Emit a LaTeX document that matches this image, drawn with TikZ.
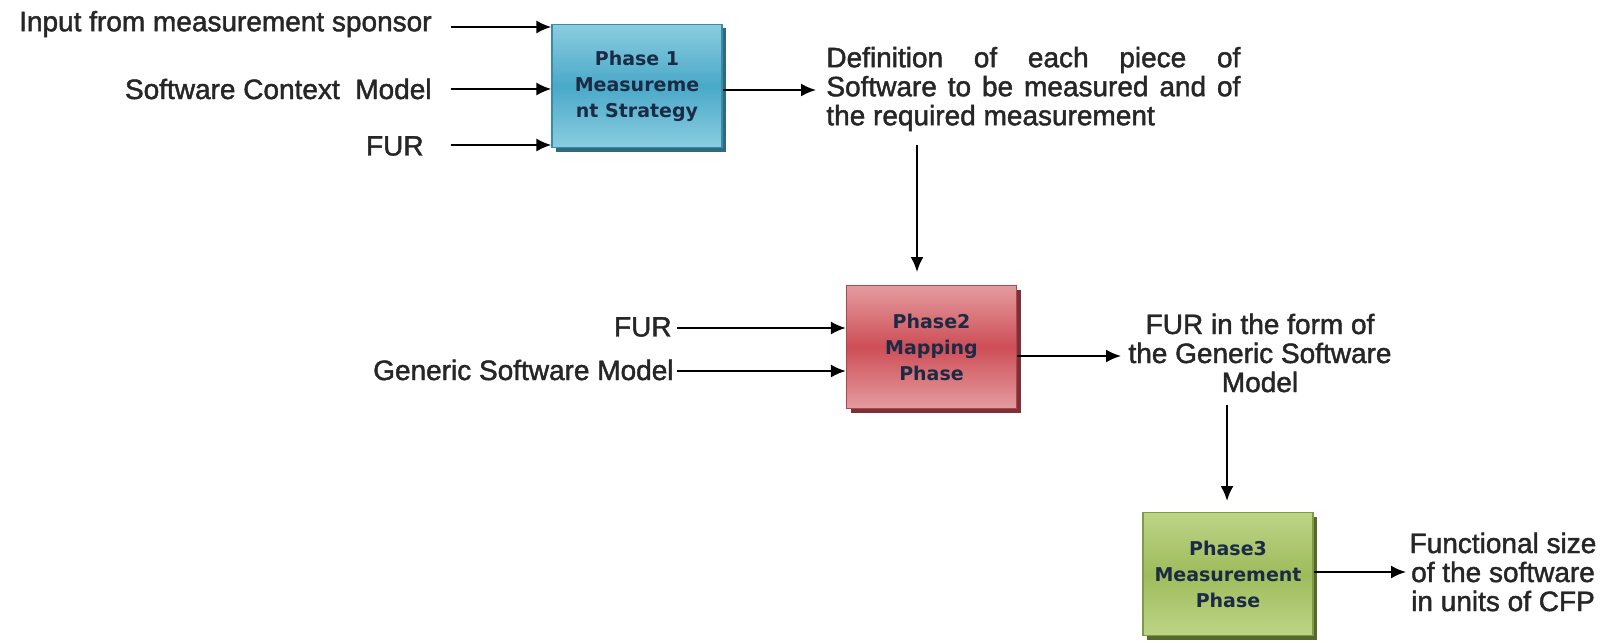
\documentclass[tikz,border=0pt]{standalone}
\usepackage{fontspec}
\setmainfont{Liberation Sans}
\newfontfamily\labfont[FakeBold=1.6]{Liberation Sans}
\newfontfamily\boxfont{DejaVu Sans}
\usetikzlibrary{arrows.meta,shadows}
\definecolor{navytext}{HTML}{1C2B45}
\definecolor{bluetop}{HTML}{8ACDE0}
\definecolor{bluemid}{HTML}{4AA9C8}
\definecolor{blueedge}{HTML}{3A8BA6}
\definecolor{blueshadow}{HTML}{2F6B7C}
\definecolor{redtop}{HTML}{E49C9F}
\definecolor{redmid}{HTML}{CE4E57}
\definecolor{rededge}{HTML}{A84850}
\definecolor{redshadow}{HTML}{7F3036}
\definecolor{greentop}{HTML}{BDD487}
\definecolor{greenmid}{HTML}{9EBC5C}
\definecolor{greenedge}{HTML}{7E9A44}
\definecolor{greenshadow}{HTML}{56692C}
\begin{document}
\begin{tikzpicture}[x=0.5pt,y=-0.5pt,
  arr/.style={-{Latex[length=7.5pt,width=6.5pt]}, line width=1pt, black},
  lab/.style={font=\labfont\fontsize{14}{14.5}\selectfont, text=black!85, inner sep=0pt},
  phase/.style={line width=0.6pt, minimum width=85pt, minimum height=61.5pt,
    inner sep=0pt, align=center, text=navytext,
    font=\boxfont\bfseries\fontsize{9.5}{13}\selectfont},
]
\useasboundingbox (0,0) rectangle (1620,642);

% Phase boxes
\node[phase, draw=blueedge, top color=bluetop, bottom color=bluetop, middle color=bluemid,
  drop shadow={shadow xshift=2pt, shadow yshift=-2pt, fill=blueshadow, opacity=1}]
  (box1) at (637,86) {Phase 1\\Measureme\\nt Strategy};
\node[phase, draw=rededge, top color=redtop, bottom color=redtop, middle color=redmid,
  drop shadow={shadow xshift=2pt, shadow yshift=-2pt, fill=redshadow, opacity=1}]
  (box2) at (931.5,347) {Phase2\\Mapping\\Phase};
\node[phase, draw=greenedge, top color=greentop, bottom color=greentop, middle color=greenmid,
  drop shadow={shadow xshift=2pt, shadow yshift=-2pt, fill=greenshadow, opacity=1}]
  (box3) at (1228,574) {Phase3\\Measurement\\Phase};

% Inputs to phase 1
\node[lab, anchor=east] (in1) at (432,24) {Input from measurement sponsor};
\node[lab, anchor=east] (in2) at (432,89) {Software Context~ Model};
\node[lab, anchor=east] (in3) at (424,146) {FUR};
\coordinate (s1) at (451,27);
\coordinate (s2) at (451,89);
\coordinate (s3) at (451,145);
\draw[arr] (s1) -- (s1 -| box1.west);
\draw[arr] (s2) -- (s2 -| box1.west);
\draw[arr] (s3) -- (s3 -| box1.west);

% Output of phase 1
\node[lab, anchor=west, align=left] (def) at (826,89)
  {\makebox[207pt][s]{Definition of each piece of}\\
   \makebox[207pt][s]{Software to be measured and of}\\
   the required measurement};
\coordinate (o1) at (816,90);
\draw[arr] (box1.east |- o1) -- (o1);
\coordinate (d1) at (917,145);
\coordinate (d2) at (917,272);
\draw[arr] (d1) -- (d2);

% Inputs to phase 2
\node[lab, anchor=east] (in4) at (672,327) {FUR};
\node[lab, anchor=east] (in5) at (674,370) {Generic Software Model};
\coordinate (s4) at (677,328);
\coordinate (s5) at (677,371);
\draw[arr] (s4) -- (s4 -| box2.west);
\draw[arr] (s5) -- (s5 -| box2.west);

% Output of phase 2
\node[lab, align=center] (fur) at (1260,353)
  {FUR in the form of\\the Generic Software\\Model};
\coordinate (o2) at (1121,356);
\draw[arr] (box2.east |- o2) -- (o2);
\coordinate (d3) at (1227,405);
\coordinate (d4) at (1227,501);
\draw[arr] (d3) -- (d4);

% Output of phase 3
\node[lab, align=center] (size) at (1503,572)
  {Functional size\\of the software\\in units of CFP};
\coordinate (o3) at (1406,572);
\draw[arr] (box3.east |- o3) -- (o3);
\end{tikzpicture}
\end{document}
